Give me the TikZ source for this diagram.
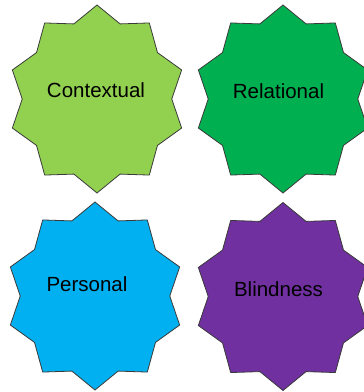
\documentclass[tikz,border=0pt]{standalone}
\usepackage{fontspec}
\setmainfont{Liberation Sans}
\definecolor{limefill}{HTML}{92D050}
\definecolor{greenfill}{HTML}{00B050}
\definecolor{skyfill}{HTML}{00B0F0}
\definecolor{purplefill}{HTML}{7030A0}
\definecolor{edgegray}{HTML}{3A3A3A}
\begin{document}
\begin{tikzpicture}[x=1pt,y=-1pt,
  sealshape/.style={draw=edgegray, line width=0.8pt, line join=miter},
  seallabel/.style={font=\fontsize{20.5}{24}\selectfont, text=black, inner sep=0pt, anchor=base}]
\useasboundingbox (0,0) rectangle (364,392);
% ten-pointed seals: outer radius 89 x 94, inner radius 0.84 of it
\foreach \cx/\cy/\col in {97/99/limefill, 283/99/greenfill, 95/296/skyfill, 283/296.5/purplefill}{
  \begin{scope}[shift={(\cx,\cy)}]
    \path[sealshape, fill=\col]
      (0,-94)
      \foreach \k in {1,...,19}{
        -- ({cos(90+18*\k)*89*(isodd(\k) ? 0.84 : 1)}, {-sin(90+18*\k)*94*(isodd(\k) ? 0.84 : 1)})
      } -- cycle;
  \end{scope}
}
\node[seallabel] (contextual) at (96,97) {Contextual};
\node[seallabel] (relational) at (278.5,98) {Relational};
\node[seallabel] (personal) at (87,291) {Personal};
\node[seallabel] (blindness) at (278.5,296) {Blindness};
\end{tikzpicture}
\end{document}
